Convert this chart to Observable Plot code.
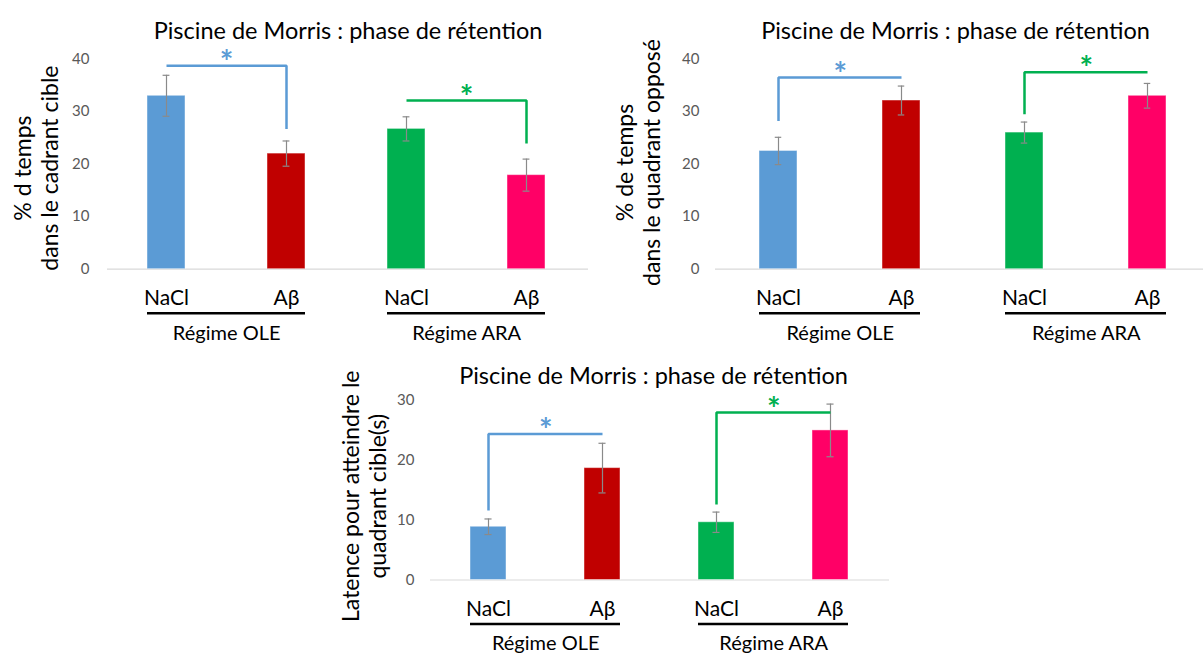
<!DOCTYPE html>
<html><head><meta charset="utf-8">
<script src="https://cdn.jsdelivr.net/npm/d3@7"></script>
<script src="https://cdn.jsdelivr.net/npm/@observablehq/plot@0.6"></script>
<style>
html,body{margin:0;padding:0;background:#fff}
body{width:1203px;height:653px;overflow:hidden;position:relative;font-family:Lato,sans-serif}
.chart{position:absolute}
</style></head><body>
<div id="c1" class="chart" style="left:0px;top:0px"></div>
<div id="c2" class="chart" style="left:600px;top:0px"></div>
<div id="c3" class="chart" style="left:330px;top:345px"></div>
<script>
// ---- data ----
const keys = ["OLE-NaCl", "OLE-Aβ", "ARA-NaCl", "ARA-Aβ"];
const tickLabels = ["NaCl", "Aβ", "NaCl", "Aβ"];
const groupNames = ["Régime OLE", "Régime ARA"];
const barColors = ["#5B9BD5", "#C00000", "#00B050", "#FF0066"];
const chartTitle = "Piscine de Morris : phase de rétention";

const cibleLabel = "% d temps\ndans le cadrant cible";
const cibleValues = [33.0, 22.0, 26.7, 17.9];
const cibleErrors = [3.9, 2.4, 2.3, 3.05];
const cibleBrackets = [
  {a: "OLE-NaCl", b: "OLE-Aβ", yA: 38.7, yTop: 38.7, yB: 26.7},
  {a: "ARA-NaCl", b: "ARA-Aβ", yA: 32.1, yTop: 32.1, yB: 23.9}
];

const opposeLabel = "% de temps\ndans le quadrant opposé";
const opposeValues = [22.5, 32.1, 26.0, 33.0];
const opposeErrors = [2.6, 2.75, 2.0, 2.35];
const opposeBrackets = [
  {a: "OLE-NaCl", b: "OLE-Aβ", yA: 28.2, yTop: 36.5, yB: 36.5},
  {a: "ARA-NaCl", b: "ARA-Aβ", yA: 29.5, yTop: 37.5, yB: 37.5}
];

const latenceLabel = "Latence pour atteindre le\nquadrant cible(s)";
const latenceValues = [8.9, 18.7, 9.65, 25.0];
const latenceErrors = [1.3, 4.15, 1.7, 4.4];
const latenceBrackets = [
  {a: "OLE-NaCl", b: "OLE-Aβ", yA: 11.6, yTop: 24.4, yB: 24.4},
  {a: "ARA-NaCl", b: "ARA-Aβ", yA: 12.6, yTop: 28.0, yB: 28.0}
];

const ticks40 = [0, 10, 20, 30, 40];
const ticks30 = [0, 10, 20, 30];

// ---- drawing ----
function makeChart(cfg) {
  const data = keys.map((k, i) => ({key: k, label: tickLabels[i], value: cfg.values[i], err: cfg.errors[i]}));
  const n = keys.length;
  const fw = cfg.width - cfg.marginLeft - cfg.marginRight;
  const step = fw / (n - cfg.paddingInner + 2 * cfg.paddingOuter);
  const bw = step * (1 - cfg.paddingInner);
  const capInset = (bw - 7) / 2;
  const groupsData = groupNames.map((g, i) => ({name: g, a: keys[2 * i], b: keys[2 * i + 1]}));
  const errColor = "#8a8a8a";
  const marks = [
    Plot.ruleY([0], {stroke: "#d9d9d9", strokeWidth: 1.2}),
    Plot.barY(data, {x: "key", y: "value", fill: "key", stroke: "#ffffff", strokeOpacity: 0.45, strokeWidth: 1}),
    Plot.ruleX(data, {x: "key", y1: d => d.value - d.err, y2: d => d.value + d.err, stroke: errColor, strokeWidth: 1.2}),
    Plot.tickY(data, {x: "key", y: d => d.value - d.err, stroke: errColor, strokeWidth: 1.2, insetLeft: capInset, insetRight: capInset}),
    Plot.tickY(data, {x: "key", y: d => d.value + d.err, stroke: errColor, strokeWidth: 1.2, insetLeft: capInset, insetRight: capInset}),
    Plot.axisY({ticks: cfg.ticks, tickSize: 0, tickPadding: cfg.tickPadding, color: "#595959", fontSize: 15}),
    Plot.text(data, {x: "key", y: () => 0, text: "label", dy: 29, fontSize: 21, fill: "#000"}),
    Plot.ruleY(groupsData, {y: () => 0, x1: "a", x2: "b", dy: 44, stroke: "#000", strokeWidth: 2.5}),
    Plot.text(groupsData, {x: "a", y: () => 0, text: "name", dx: step / 2, dy: 64, fontSize: 20, fill: "#000"}),
    Plot.text([cfg.title], {text: d => d, frameAnchor: "top", textAnchor: "middle", dx: cfg.titleDx, dy: cfg.titleDy, fontSize: 23.5, fill: "#000"}),
    Plot.text([cfg.yLabel], {text: d => d, frameAnchor: "left", textAnchor: "middle", rotate: -90, dx: cfg.yLabelDx, dy: cfg.yLabelDy, fontSize: 23, lineHeight: 1.2, fill: "#000"})
  ];
  cfg.brackets.forEach((br, i) => {
    const col = barColors[2 * i];
    const pts = [{k: br.a, y: br.yA}, {k: br.a, y: br.yTop}, {k: br.b, y: br.yTop}, {k: br.b, y: br.yB}];
    marks.push(Plot.line(pts, {x: "k", y: "y", stroke: col, strokeWidth: 2.5, strokeLinejoin: "miter", strokeLinecap: "butt"}));
    marks.push(Plot.text([br], {x: "a", y: "yTop", text: () => "*", dx: step / 2, dy: cfg.starDy, fontSize: 32, fontWeight: "bold", fill: col}));
  });
  return Plot.plot({
    width: cfg.width,
    height: cfg.height,
    marginLeft: cfg.marginLeft,
    marginRight: cfg.marginRight,
    marginTop: cfg.marginTop,
    marginBottom: cfg.marginBottom,
    style: {fontFamily: "Lato, sans-serif", fontSize: "15px", color: "#000", background: "transparent", overflow: "visible"},
    x: {domain: keys, paddingInner: cfg.paddingInner, paddingOuter: cfg.paddingOuter, align: cfg.align, axis: null},
    y: {domain: cfg.domain, axis: null},
    color: {domain: keys, range: barColors},
    marks
  });
}

document.getElementById("c1").appendChild(makeChart({
  width: 600, height: 350, marginLeft: 107, marginRight: 12, marginTop: 58.5, marginBottom: 81.3,
  paddingInner: 0.683, paddingOuter: 0.34, align: 0.48,
  domain: [0, 40], ticks: ticks40, tickPadding: 18,
  values: cibleValues, errors: cibleErrors, brackets: cibleBrackets,
  title: chartTitle, titleDx: 0, titleDy: -36.5,
  yLabel: cibleLabel, yLabelDx: -72, yLabelDy: 4, starDy: -2
}));

document.getElementById("c2").appendChild(makeChart({
  width: 603, height: 350, marginLeft: 115, marginRight: 0, marginTop: 58.5, marginBottom: 81.3,
  paddingInner: 0.688, paddingOuter: 0.32, align: 0.544,
  domain: [0, 40], ticks: ticks40, tickPadding: 16,
  values: opposeValues, errors: opposeErrors, brackets: opposeBrackets,
  title: chartTitle, titleDx: -4, titleDy: -36.5,
  yLabel: opposeLabel, yLabelDx: -78, yLabelDy: -1.6, starDy: -2
}));

document.getElementById("c3").appendChild(makeChart({
  width: 560, height: 308, marginLeft: 100, marginRight: 1, marginTop: 55, marginBottom: 73.5,
  paddingInner: 0.686, paddingOuter: 0.349, align: 0.49,
  domain: [0, 30], ticks: ticks30, tickPadding: 16,
  values: latenceValues, errors: latenceErrors, brackets: latenceBrackets,
  title: chartTitle, titleDx: -6.5, titleDy: -33,
  yLabel: latenceLabel, yLabelDx: -67, yLabelDy: 6, starDy: -2
}));
</script>
</body></html>
